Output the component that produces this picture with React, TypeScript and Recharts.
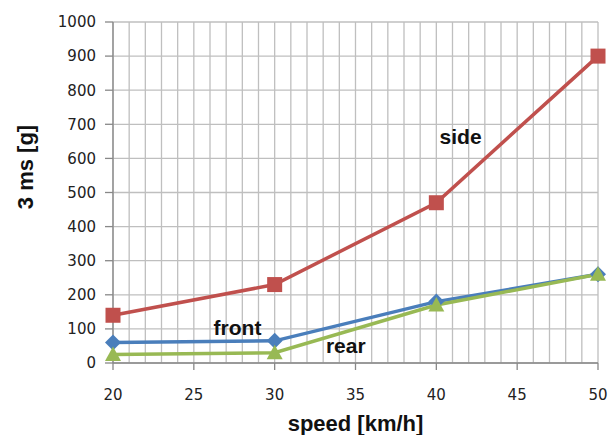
import React from "react";
import {
  LineChart,
  Line,
  XAxis,
  YAxis,
  CartesianGrid,
  ReferenceDot,
} from "recharts";

const speeds = [20, 30, 40, 50];
const sideValues = [140, 230, 470, 900];
const frontValues = [60, 65, 180, 260];
const rearValues = [25, 30, 170, 260];

const xLabelTicks = [20, 25, 30, 35, 40, 45, 50];
const yTicks = [0, 100, 200, 300, 400, 500, 600, 700, 800, 900, 1000];

// series name labels, placed in data coordinates
const seriesLabels = [
  { text: "side", x: 41.5, y: 663 },
  { text: "front", x: 27.7, y: 103 },
  { text: "rear", x: 34.4, y: 52 },
];

const data = speeds.map((s, i) => ({
  speed: s,
  side: sideValues[i],
  front: frontValues[i],
  rear: rearValues[i],
}));

// one grid line per km/h
const gridTicks: number[] = [];
for (let v = 20; v <= 50; v++) gridTicks.push(v);

const RED = "#C0504D";
const BLUE = "#4A7EBB";
const GREEN = "#98B954";

const tickFont = "'DejaVu Sans', Verdana, sans-serif";
const titleFont = "'Liberation Sans', Arial, sans-serif";

const SquareDot = (props: any) => {
  const { cx, cy } = props;
  return <rect x={cx - 7.5} y={cy - 7.5} width={15} height={15} fill={RED} />;
};

const DiamondDot = (props: any) => {
  const { cx, cy } = props;
  const r = 8;
  return (
    <polygon
      points={`${cx},${cy - r} ${cx + r},${cy} ${cx},${cy + r} ${cx - r},${cy}`}
      fill={BLUE}
    />
  );
};

const TriangleDot = (props: any) => {
  const { cx, cy } = props;
  const r = 8;
  return (
    <polygon
      points={`${cx},${cy - r} ${cx + r},${cy + r * 0.8} ${cx - r},${cy + r * 0.8}`}
      fill={GREEN}
    />
  );
};

const XTick = (props: any) => {
  const { x, y, payload } = props;
  if (!xLabelTicks.includes(payload.value)) return <g />;
  return (
    <g>
      <line x1={x} x2={x} y1={y} y2={y + 7} stroke="#888" strokeWidth={1.3} />
      <text
        x={x}
        y={y + 37}
        textAnchor="middle"
        fontSize={15}
        fontFamily={tickFont}
        fill="#222"
      >
        {payload.value}
      </text>
    </g>
  );
};

export default function App() {
  return (
    <div style={{ position: "absolute", left: 0, top: 0, background: "#fff" }}>
      <LineChart
        width={608}
        height={435}
        data={data}
        margin={{ top: 22, right: 10, left: 0, bottom: 0 }}
      >
        <CartesianGrid stroke="#BFBFBF" strokeWidth={1.3} />
        <XAxis
          dataKey="speed"
          type="number"
          domain={[20, 50]}
          ticks={gridTicks}
          interval={0}
          height={72}
          tickSize={0}
          tickMargin={0}
          tickLine={false}
          tick={<XTick />}
          axisLine={{ stroke: "#888", strokeWidth: 1.3 }}
          label={{
            value: "speed [km/h]",
            position: "insideBottom",
            offset: 4,
            style: {
              fontFamily: titleFont,
              fontWeight: "bold",
              fontSize: 22,
              fill: "#111",
            },
          }}
        />
        <YAxis
          type="number"
          domain={[0, 1000]}
          ticks={yTicks}
          interval={0}
          width={113}
          tickSize={8}
          tickMargin={9}
          tickLine={{ stroke: "#888", strokeWidth: 1.3 }}
          axisLine={{ stroke: "#888", strokeWidth: 1.3 }}
          tick={{ fontSize: 15, fontFamily: tickFont, fill: "#222" }}
          label={{
            content: () => (
              <text
                x={25}
                y={167}
                transform="rotate(-90 25 167)"
                textAnchor="middle"
                dominantBaseline="central"
                fontFamily={titleFont}
                fontWeight="bold"
                fontSize={22}
                fill="#111"
              >
                3 ms [g]
              </text>
            ),
          }}
        />
        <Line
          dataKey="side"
          stroke={RED}
          strokeWidth={3.5}
          dot={<SquareDot />}
          activeDot={false}
          isAnimationActive={false}
        />
        <Line
          dataKey="front"
          stroke={BLUE}
          strokeWidth={3.5}
          dot={<DiamondDot />}
          activeDot={false}
          isAnimationActive={false}
        />
        <Line
          dataKey="rear"
          stroke={GREEN}
          strokeWidth={3.5}
          dot={<TriangleDot />}
          activeDot={false}
          isAnimationActive={false}
        />
        {seriesLabels.map((l) => (
          <ReferenceDot
            key={l.text}
            x={l.x}
            y={l.y}
            r={0}
            fill="none"
            stroke="none"
            label={{
              content: (p: any) => (
                <text
                  x={p.viewBox.x}
                  y={p.viewBox.y}
                  textAnchor="middle"
                  dominantBaseline="central"
                  fontFamily={titleFont}
                  fontWeight="bold"
                  fontSize={21}
                  fill="#111"
                >
                  {l.text}
                </text>
              ),
            }}
          />
        ))}
      </LineChart>
    </div>
  );
}
